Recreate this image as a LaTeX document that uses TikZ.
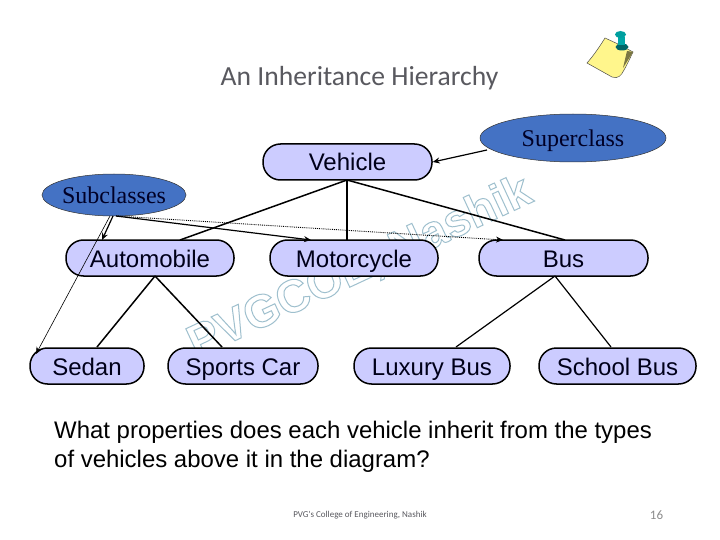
\documentclass[tikz,border=0pt]{standalone}
\usepackage{fontspec}
\setmainfont{Liberation Sans}
\newfontfamily\serifface{Liberation Serif}
\newfontfamily\slideface{Carlito}
\usetikzlibrary{shapes.geometric,arrows.meta}
\definecolor{boxfill}{HTML}{CCCCFF}
\definecolor{ovalfill}{HTML}{4472C4}
\definecolor{titlegray}{HTML}{59595F}
\definecolor{markblue}{HTML}{9FC0CE}
\definecolor{notefill}{HTML}{FFF68C}
\tikzset{
  x=1pt,y=-1pt,
  classbox/.style={draw=black,line width=1.5pt,fill=boxfill,rounded corners=17.5pt,minimum height=36pt,inner sep=0pt,text height=20pt,text depth=2pt,font=\fontsize{24}{26}\selectfont,text=black!90!blue},
  oval/.style={ellipse,draw=black!80,line width=0.5pt,fill=ovalfill,inner sep=-2pt,text height=20pt,text depth=2pt,font=\serifface\fontsize{24}{26}\selectfont,text=black!85!blue},
  link/.style={line width=1.5pt,black},
  pointer/.style={black,-{Stealth[length=7pt,width=6pt]}},
}
\begin{document}
\begin{tikzpicture}
\useasboundingbox (0,0) rectangle (720,540);
\fill[white] (0,0) rectangle (720,540);
% watermark
\node[rotate=25,text=markblue,font=\bfseries\fontsize{46}{46}\selectfont] (mark) at (360,268) {\special{pdf:code 1 Tr 1 w}PVGCOE, Nashik\special{pdf:code 0 Tr}};
% title
\node[text=titlegray,font=\slideface\fontsize{27.6}{30}\selectfont] (title) at (359.5,78) {An Inheritance Hierarchy};
% classes
\node[classbox,minimum width=169pt] (veh) at (347.5,162) {Vehicle};
\node[classbox,minimum width=168pt] (auto) at (150,258) {Automobile};
\node[classbox,minimum width=168pt] (moto) at (354,258) {Motorcycle};
\node[classbox,minimum width=169pt] (bus) at (563.5,258) {Bus};
\node[classbox,minimum width=114pt] (sedan) at (87,366) {Sedan};
\node[classbox,minimum width=150pt] (sports) at (243,366) {Sports Car};
\node[classbox,minimum width=156pt] (lux) at (432,366) {Luxury Bus};
\node[classbox,minimum width=157pt] (school) at (617.5,366) {School Bus};
% ovals
\node[oval,minimum width=186pt,minimum height=48pt] (super) at (573,138) {Superclass};
\node[oval,minimum width=144pt,minimum height=42pt] (sub) at (114,195) {Subclasses};
% tree links
\coordinate (vt) at (347,180);
\coordinate (aup) at (180,240);
\coordinate (mup) at (347,240);
\coordinate (bup) at (565,240);
\coordinate (adn) at (155,276);
\coordinate (bdn) at (555,276);
\draw[link] (vt) -- (aup);
\draw[link] (vt) -- (mup);
\draw[link] (vt) -- (bup);
\draw[link] (adn) -- (97,347) coordinate (sdup);
\draw[link] (adn) -- (222,347) coordinate (spup);
\draw[link,line width=1.2pt] (bdn) -- (456,347) coordinate (lxup);
\draw[link,line width=1.2pt] (bdn) -- (611,347) coordinate (scup);
% pointers
\coordinate (subA) at (110,216);
\coordinate (subB) at (113,216);
\coordinate (subC) at (116,216);
\draw[pointer,line width=1.2pt] (487,150) -- (veh.east);
\draw[pointer,line width=1.2pt] (subB) -- (102,240);
\draw[pointer,line width=0.6pt] (subA) -- (36,354);
\draw[pointer,line width=1.2pt] (subC) -- (311,240);
\draw[pointer,line width=0.9pt,densely dotted] (subC) -- (503,240);
% note icon
\path[fill=notefill,draw=black!70,line width=0.5pt] (605,38) .. controls (600,46) and (594,55) .. (587,63) -- (612,77) .. controls (618,79) and (621,76) .. (624,70) .. controls (628,63) and (630,58) .. (633,52) -- (618,44) -- cycle;
\fill[black!40!notefill!80!black] (627,51) -- (633,52) -- (623,68) -- cycle;
\fill[teal!80!black] (622,47) ellipse [x radius=6.5, y radius=3.5];
\fill[teal!70!cyan] (618,37) rectangle (625,45);
\fill[teal!75!cyan] (620.5,34.5) ellipse [x radius=5.5, y radius=3.5];
% question
\node[anchor=north west,align=left,inner sep=0pt,font=\fontsize{23.95}{29}\selectfont] (q) at (54,421) {What properties does each vehicle inherit from the types\\of vehicles above it in the diagram?};
% footer
\node[text=titlegray,font=\slideface\fontsize{9}{10}\selectfont] (foot) at (360,515) {PVG's College of Engineering, Nashik};
\node[text=black!45,font=\slideface\fontsize{13}{15}\selectfont] (num) at (656.5,515) {16};
\end{tikzpicture}
\end{document}
